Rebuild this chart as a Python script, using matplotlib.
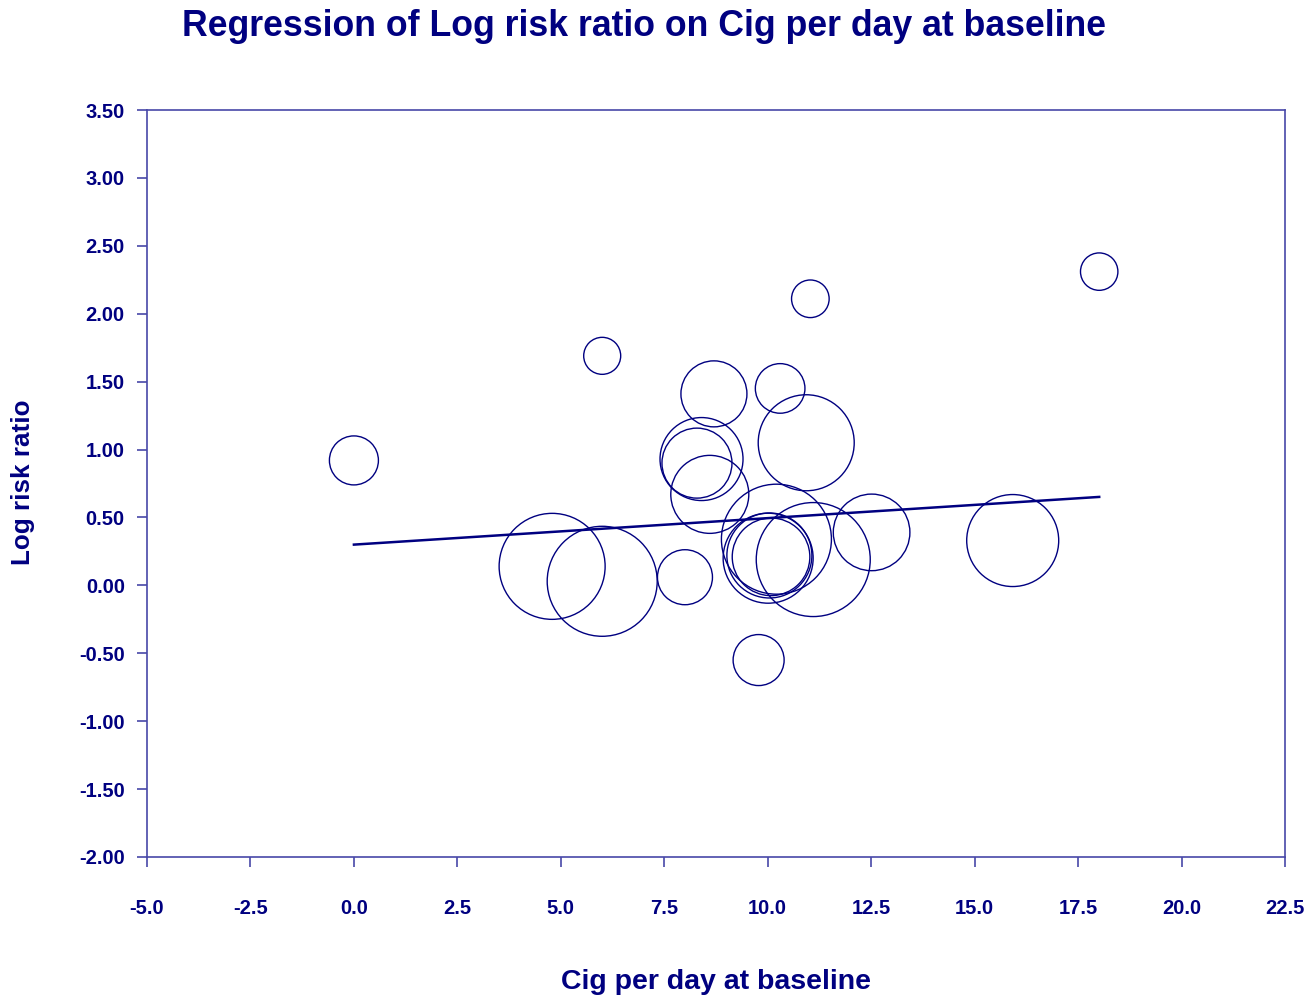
import numpy as np
import matplotlib.pyplot as plt

plt.rcParams['font.family'] = ['Liberation Sans', 'DejaVu Sans']

# studies: cigarettes per day at baseline, log risk ratio, bubble radius (weight)
cig = [0.0, 4.79, 6.0, 6.0, 8.0, 8.29, 8.40, 8.60, 8.70, 9.78, 10.01,
       10.04, 10.08, 10.21, 10.30, 10.93, 11.03, 11.10, 12.51, 15.92, 18.01]
lrr = [0.92, 0.14, 0.03, 1.69, 0.06, 0.90, 0.93, 0.67, 1.41, -0.55, 0.20,
       0.22, 0.21, 0.34, 1.45, 1.05, 2.11, 0.19, 0.39, 0.33, 2.31]
weight = [24.5, 53, 55, 18.5, 27.5, 35, 41.5, 39, 33, 25.5, 45,
          42.5, 38.8, 55, 24.8, 48, 18.8, 57, 38.3, 46, 18.7]

intercept = 0.30
slope = 0.0195

xticks = np.arange(-5, 22.6, 2.5)
yticks = np.arange(-2, 3.51, 0.5)

navy = '#000080'
dpi = 100
fig = plt.figure(figsize=(13.1, 10), dpi=dpi)
ax = fig.add_axes([147/1310, 143/1000, (1285-147)/1310, (857-110)/1000])

sizes = [(2*r*72/dpi)**2 for r in weight]
ax.scatter(cig, lrr, s=sizes, facecolors='none', edgecolors=navy, linewidths=1.0)

xs = np.array([min(cig), max(cig)])
ax.plot(xs, intercept + slope*xs, color=navy, lw=1.8)

ax.set_xlim(-5, 22.5)
ax.set_ylim(-2, 3.5)
ax.set_xticks(xticks)
ax.set_xticklabels(['%.1f' % v for v in xticks])
ax.set_yticks(yticks)
ax.set_yticklabels(['%.2f' % v for v in yticks])

for s in ax.spines.values():
    s.set_color('#4848a8')
    s.set_linewidth(1.2)
ax.tick_params(axis='both', colors='#4848a8', length=7, width=1.2, direction='out')
ax.tick_params(axis='x', pad=23, labelcolor=navy, labelsize=14.5)
ax.tick_params(axis='y', pad=9, labelcolor=navy, labelsize=14.5)
for lab in ax.get_xticklabels() + ax.get_yticklabels():
    lab.set_fontweight('bold')

fig.text(644/1310, 1 - 26/1000, 'Regression of Log risk ratio on Cig per day at baseline',
         ha='center', va='center', fontsize=25.7, fontweight='bold', color=navy)
fig.text(716/1310, 1 - 982/1000, 'Cig per day at baseline',
         ha='center', va='center', fontsize=20.5, fontweight='bold', color=navy)
fig.text(23/1310, 1 - 482/1000, 'Log risk ratio', rotation=90,
         ha='center', va='center', fontsize=18.7, fontweight='bold', color=navy)

fig.savefig('out.png', dpi=dpi, facecolor='white')
